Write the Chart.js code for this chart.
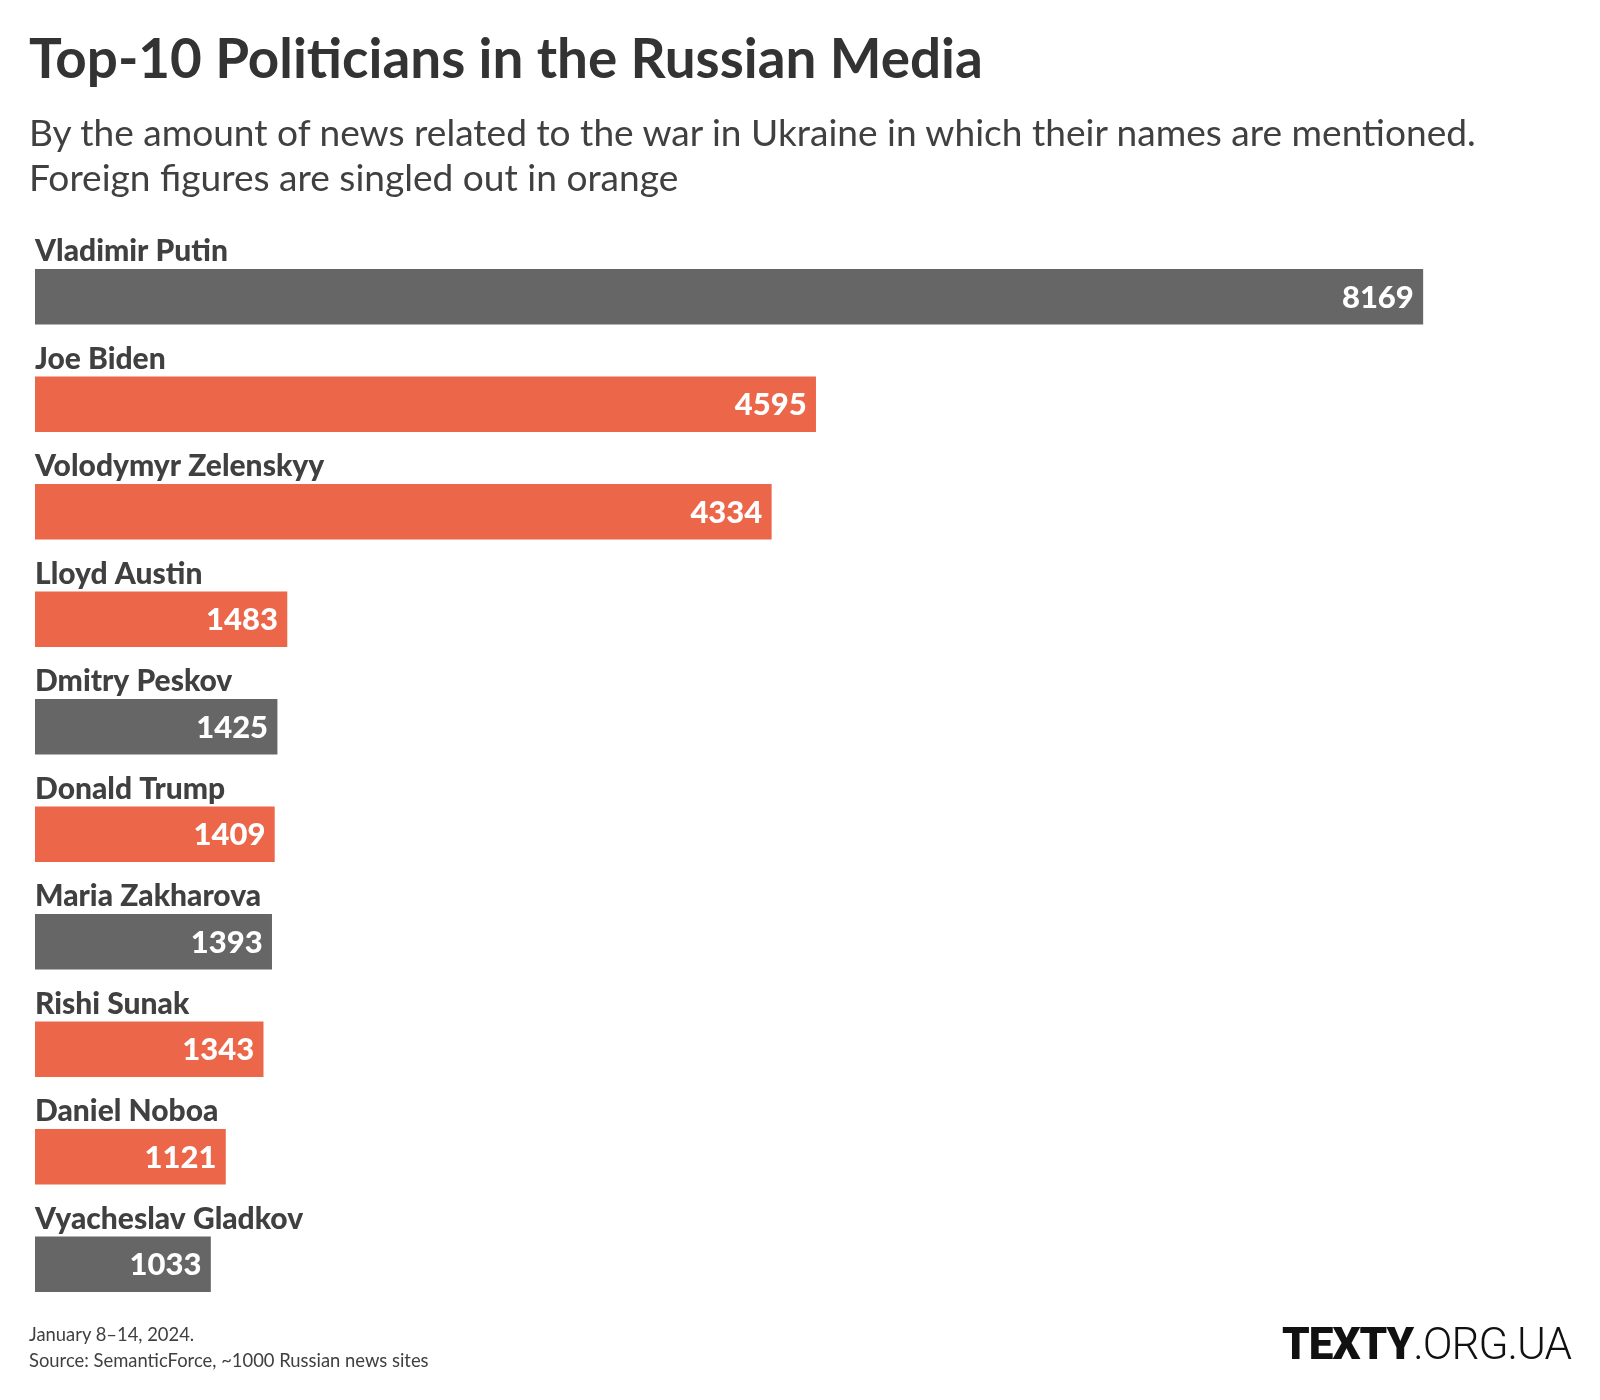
<!DOCTYPE html>
<html>
<head>
<meta charset="utf-8">
<script src="https://cdn.jsdelivr.net/npm/chart.js@4/dist/chart.umd.min.js"></script>
<style>
  body { margin: 0; background: #fff; }
  #wrap { position: relative; width: 1600px; height: 1400px; overflow: hidden; font-family: Lato, sans-serif; color: #333; }
  #title { position: absolute; left: 29px; top: 24px; font-size: 54.8px; font-weight: 700; color: #333; white-space: nowrap; }
  #sub { position: absolute; left: 29px; top: 109px; font-size: 37.1px; line-height: 45px; color: #404040; white-space: nowrap; }
  #foot { position: absolute; left: 29px; top: 1321px; font-size: 18.4px; line-height: 26px; color: #404040; }
  #logo { position: absolute; left: 1282px; top: 1318px; font-family: Roboto, sans-serif; font-size: 44px; color: #111; letter-spacing: -1px; }
  #logo b { font-weight: 900; }
  #logo span { font-weight: 300; }
  canvas { position: absolute; left: 0; top: 0; }
</style>
</head>
<body>
<div id="wrap">
  <canvas id="bars" width="1600" height="1400"></canvas>
  <div id="title">Top-10 Politicians in the Russian Media</div>
  <div id="sub">By the amount of news related to the war in Ukraine in which their names are mentioned.<br>Foreign figures are singled out in orange</div>
  <div id="foot">January 8–14, 2024.<br>Source: SemanticForce, ~1000 Russian news sites</div>
  <div id="logo"><b>TEXTY</b><span>.ORG.UA</span></div>
</div>
<script>
// datos
var nombres = ['Vladimir Putin', 'Joe Biden', 'Volodymyr Zelenskyy', 'Lloyd Austin', 'Dmitry Peskov',
               'Donald Trump', 'Maria Zakharova', 'Rishi Sunak', 'Daniel Noboa', 'Vyacheslav Gladkov'];
var menciones = [8169, 4595, 4334, 1483, 1425, 1409, 1393, 1343, 1121, 1033];
var extranjero = [false, true, true, true, false, true, false, true, true, false];

var GRIS = '#666666';
var NARANJA = '#ec6649';

// nombres encima de cada barra y valor dentro
var etiquetas = {
    id: 'etiquetas',
    afterDatasetsDraw: function(chart) {
        var ctx = chart.ctx;
        var meta = chart.getDatasetMeta(0);
        ctx.save();
        meta.data.forEach(function(bar, i) {
            var top = bar.y - bar.height / 2;
            ctx.font = '900 30px Lato';
            ctx.fillStyle = '#404040';
            ctx.textAlign = 'left';
            ctx.textBaseline = 'alphabetic';
            ctx.fillText(nombres[i], chart.chartArea.left, top - 8);
            ctx.font = '900 31px Lato';
            ctx.fillStyle = '#fff';
            ctx.textAlign = 'right';
            ctx.textBaseline = 'middle';
            ctx.fillText(menciones[i], bar.x - 9, bar.y + 1);
        });
        ctx.restore();
    }
};

var ctx = document.getElementById('bars').getContext('2d');
var chart = new Chart(ctx, {
    type: 'bar',
    data: {
        labels: nombres,
        datasets: [{
            data: menciones,
            backgroundColor: extranjero.map(function(f) { return f ? NARANJA : GRIS; }),
            barThickness: 55,
            borderWidth: 0
        }]
    },
    options: {
        indexAxis: 'y',
        responsive: false,
        animation: false,
        layout: { padding: { left: 35, right: 36, top: 243, bottom: 82 } },
        scales: {
            x: { display: false, min: 0, max: 9000 },
            y: { display: false }
        },
        plugins: {
            legend: { display: false },
            tooltip: { enabled: false }
        }
    },
    plugins: [etiquetas]
});
</script>
</body>
</html>
